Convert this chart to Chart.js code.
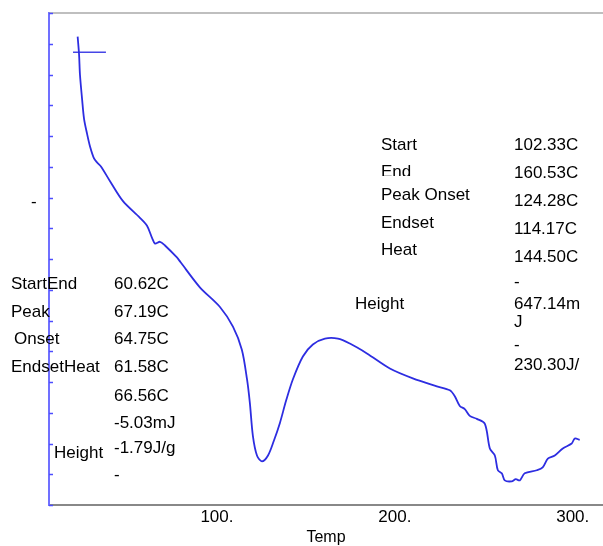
<!DOCTYPE html>
<html>
<head>
<meta charset="utf-8">
<script src="https://cdn.jsdelivr.net/npm/chart.js@4.4.1/dist/chart.umd.min.js"></script>
<style>
  html, body { margin: 0; padding: 0; background: #fff; }
  #wrap { width: 603px; height: 546px; }
</style>
</head>
<body>
<div id="wrap"><canvas id="dsc"></canvas></div>
<script>
// DSC trace
const tempC = [21.7, 22.5, 23.0, 24.2, 25.3, 27.0, 28.7, 30.9, 32.6, 34.8, 39.9, 47.2, 56.7, 60.7, 63.5, 65.2, 68.0, 70.8, 77.5,
  79.5, 90.4, 101.7, 109.0, 114.0, 116.9, 118.5, 120.2, 122.5, 125.3, 128.7, 132.0, 135.4, 138.8, 142.7, 148.3, 153.9,
  160.7, 168.0, 174.7, 184.3, 197.2, 210.1, 223.6, 230.9, 233.7, 236.5, 239.3, 242.1, 246.1, 250.6, 253.4, 256.2,
  257.9, 260.1, 261.8, 265.7, 268.0, 270.2, 273.0, 279.8, 283.1, 286.0, 289.9, 294.4, 299.4, 301.1, 303.9];
const heatFlow = [15.23, 14.65, 14.0, 13.2, 12.56, 12.07, 11.65, 11.27, 11.14, 11.01, 10.53, 9.88, 9.34, 9.08, 8.69, 8.50, 8.56, 8.44, 8.05,
  7.90, 7.08, 6.44, 5.80, 5.05, 4.09, 3.32, 2.25, 1.61, 1.42, 1.61, 2.09, 2.67, 3.38, 4.09, 4.83, 5.22,
  5.41, 5.41, 5.25, 4.93, 4.44, 4.12, 3.86, 3.73, 3.54, 3.22, 3.12, 2.90, 2.80, 2.64, 1.84, 1.61,
  1.13, 1.03, 0.80, 0.77, 0.84, 0.80, 1.03, 1.13, 1.22, 1.51, 1.61, 1.84, 2.00, 2.16, 2.12];

// start marker
const markerX = [19.1, 37.6];
const markerY = [14.72, 14.72];

const xTickValues = [100, 200, 300];

// peak result tables
const leftNames = ["StartEnd", "Peak", "Onset", "EndsetHeat", "Height"];
const leftValues = ["60.62C", "67.19C", "64.75C", "61.58C", "66.56C", "-5.03mJ", "-1.79J/g", "-"];
const rightNames = ["Start", "End", "Peak Onset", "Endset", "Heat", "Height"];
const rightValues = ["102.33C", "160.53C", "124.28C", "114.17C", "144.50C", "-", "647.14m", "J", "-", "230.30J/"];

const FAMILY = '"Liberation Sans", Arial, sans-serif';
const FONT = '17px ' + FAMILY;

const decor = {
  id: 'decor',
  afterDraw(chart) {
    const ctx = chart.ctx;
    const a = chart.chartArea;
    const y = chart.scales.y;
    ctx.save();
    // top frame line
    ctx.strokeStyle = '#aaaaaa';
    ctx.lineWidth = 1.5;
    ctx.beginPath();
    ctx.moveTo(a.left, a.top);
    ctx.lineTo(a.right, a.top);
    ctx.stroke();
    // inward ticks on the left axis
    ctx.strokeStyle = '#4d4dff';
    ctx.lineWidth = 1.5;
    y.ticks.forEach(t => {
      const py = Math.round(y.getPixelForValue(t.value)) + 0.5;
      ctx.beginPath();
      ctx.moveTo(a.left, py);
      ctx.lineTo(a.left + 4, py);
      ctx.stroke();
    });

    ctx.fillStyle = '#000';
    ctx.font = FONT;
    ctx.textBaseline = 'middle';
    ctx.textAlign = 'left';

    // left table
    const lnPos = [[11, 284], [11, 312], [14, 339], [11, 367], [54, 453]];
    leftNames.forEach((s, i) => ctx.fillText(s, lnPos[i][0], lnPos[i][1]));
    const lvY = [284, 312, 339, 367, 396, 423, 448, 475];
    leftValues.forEach((s, i) => ctx.fillText(s, 114, lvY[i]));

    // right table
    const rnY = [145, 172, 195, 223, 250];
    rightNames.forEach((s, i) => {
      if (i === 5) { ctx.fillText(s, 355, 304); return; }
      if (i === 1) {
        ctx.save();
        ctx.beginPath();
        ctx.rect(370, 150, 100, 26);
        ctx.clip();
        ctx.fillText(s, 381, rnY[i]);
        ctx.restore();
        return;
      }
      ctx.fillText(s, 381, rnY[i]);
    });
    const rvY = [145, 173, 201, 229, 257, 282, 304, 322, 345, 365];
    rightValues.forEach((s, i) => ctx.fillText(s, 514, rvY[i]));

    // stray dash by the axis
    ctx.fillText('-', 31, 202);
    ctx.restore();
  }
};

new Chart(document.getElementById('dsc'), {
  type: 'line',
  data: {
    datasets: [
      {
        data: tempC.map((t, i) => ({ x: t, y: heatFlow[i] })),
        borderColor: 'rgb(45,45,225)',
        borderWidth: 1.8,
        pointRadius: 0,
        tension: 0.3,
        fill: false
      },
      {
        data: markerX.map((t, i) => ({ x: t, y: markerY[i] })),
        borderColor: 'rgb(70,70,230)',
        borderWidth: 1.5,
        pointRadius: 0,
        fill: false
      }
    ]
  },
  options: {
    responsive: true,
    maintainAspectRatio: false,
    animation: false,
    layout: { padding: { left: 49, top: 13, right: 0, bottom: 0 } },
    plugins: {
      legend: { display: false },
      tooltip: { enabled: false }
    },
    scales: {
      x: {
        type: 'linear',
        min: 5.6,
        max: 317,
        afterBuildTicks: (scale) => { scale.ticks = xTickValues.map(v => ({ value: v })); },
        grid: { display: false, drawTicks: false, tickLength: 0 },
        border: { display: true, color: '#888888', width: 2 },
        ticks: {
          color: '#000',
          font: { family: FAMILY, size: 17, lineHeight: 1 },
          padding: 4,
          maxRotation: 0,
          callback: (v) => v + '.'
        },
        title: {
          display: true,
          text: 'Temp',
          color: '#000',
          font: { family: FAMILY, size: 16, lineHeight: 1 },
          padding: { top: 0, bottom: 0 }
        }
      },
      y: {
        type: 'linear',
        min: 0,
        max: 16,
        ticks: { display: false, stepSize: 1 },
        grid: { display: false, drawTicks: false, tickLength: 0 },
        border: { display: true, color: 'rgb(112,112,255)', width: 2 }
      }
    }
  },
  plugins: [decor]
});
</script>
</body>
</html>
